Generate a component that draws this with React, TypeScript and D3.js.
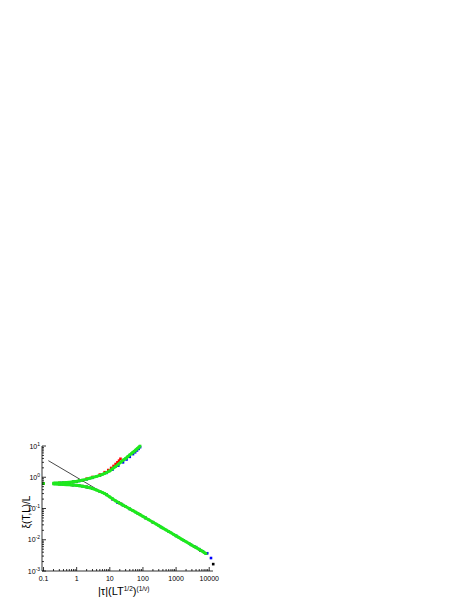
import React from 'react';
import * as d3 from 'd3';

// scaled correlation length, several system sizes (one colour each)
const greenUpperX = [0.1, 0.2, 0.25, 0.3, 0.4, 0.5, 0.6, 0.7, 0.8, 1, 1.2, 1.5, 2, 2.5, 3, 4, 5, 6, 7, 8, 10, 12, 15, 18, 22, 26, 30, 35, 40, 45, 50, 55, 60, 65, 70, 76, 82];
const greenUpperY = [0.63, 0.65, 0.65, 0.66, 0.67, 0.68, 0.69, 0.7, 0.72, 0.74, 0.77, 0.81, 0.87, 0.93, 0.98, 1.07, 1.15, 1.24, 1.33, 1.42, 1.6, 1.85, 2.2, 2.6, 3.1, 3.6, 4.0, 4.6, 5.2, 5.7, 6.3, 6.8, 7.4, 7.9, 8.5, 9.2, 10];

const greenLowerX = [0.1, 0.2, 0.25, 0.3, 0.4, 0.5, 0.6, 0.7, 0.8, 1, 1.2, 1.5, 2, 2.5, 3, 4, 5, 6, 7, 8, 10, 12, 15, 20, 25, 30, 40, 50, 60, 70, 85, 100, 120, 150, 200, 250, 300, 400, 500, 600, 700, 850, 1000, 1200, 1500, 2000, 2500, 3000, 4000, 5000, 6000, 7000, 8000];
const greenLowerY = [0.63, 0.61, 0.61, 0.6, 0.59, 0.58, 0.575, 0.565, 0.56, 0.55, 0.535, 0.515, 0.49, 0.46, 0.435, 0.39, 0.355, 0.325, 0.3, 0.275, 0.235, 0.205, 0.175, 0.147, 0.128, 0.116, 0.097, 0.085, 0.0765, 0.07, 0.062, 0.056, 0.0499, 0.0435, 0.0364, 0.0318, 0.0284, 0.0236, 0.0206, 0.0184, 0.0167, 0.0147, 0.0133, 0.0119, 0.0103, 0.0086, 0.0075, 0.0067, 0.0056, 0.0049, 0.0044, 0.0039, 0.0036];

const redUpperX = [0.1, 0.3, 0.5, 0.8, 1.2, 2, 3, 5, 7, 9, 11, 13, 15, 17, 19, 21];
const redUpperY = [0.63, 0.66, 0.68, 0.72, 0.78, 0.9, 1.02, 1.22, 1.45, 1.7, 1.98, 2.3, 2.65, 3.0, 3.4, 3.9];
const redLowerX = [0.1, 0.3, 0.5, 0.75, 1.2, 2, 3, 5, 8, 12, 20, 30, 50, 80, 120, 200];
const redLowerY = [0.63, 0.6, 0.585, 0.565, 0.535, 0.49, 0.435, 0.355, 0.275, 0.2, 0.147, 0.116, 0.085, 0.065, 0.0499, 0.0364];

const blueUpperX = [0.22, 0.35, 0.5, 0.8, 1.2, 2, 3, 5, 8, 12, 18, 25, 32, 40, 50, 58, 66, 74, 82];
const blueUpperY = [0.64, 0.66, 0.67, 0.71, 0.76, 0.86, 0.96, 1.12, 1.38, 1.75, 2.35, 3.0, 3.7, 4.5, 5.5, 6.3, 7.2, 8.1, 9.2];
const blueLowerX = [0.22, 0.35, 0.5, 0.8, 1.2, 2, 3, 5, 8, 12, 17, 25, 40, 70, 120, 200, 350, 600, 1000, 1700, 2800, 4000, 5000, 6500, 8700, 11300];
const blueLowerY = [0.63, 0.6, 0.585, 0.56, 0.535, 0.49, 0.435, 0.355, 0.275, 0.2, 0.155, 0.128, 0.097, 0.07, 0.0499, 0.0364, 0.0254, 0.0184, 0.0133, 0.0096, 0.0069, 0.0058, 0.005, 0.0042, 0.0037, 0.0026];

const blackUpperX = [0.25, 0.4, 0.6, 1, 1.5];
const blackUpperY = [0.64, 0.66, 0.68, 0.73, 0.8];
const blackLowerX = [0.25, 0.4, 0.6, 1, 1.5, 2.2, 18, 22, 3500, 5500, 8000, 13200];
const blackLowerY = [0.62, 0.6, 0.58, 0.555, 0.52, 0.475, 0.158, 0.14, 0.0061, 0.0045, 0.0036, 0.00166];

// power-law asymptote
const fitX = [0.14, 8000];
const fitY = [3.4, 0.0036];

const xMajor = [0.1, 1, 10, 100, 1000, 10000];
const xMajorLabels = ['0.1', '1', '10', '100', '1000', '10000'];
const yMajor = [10, 1, 0.1, 0.01, 0.001];
const yExponents = ['1', '0', '-1', '-2', '-3'];

const FONT = "'Liberation Sans', Arimo, Arial, sans-serif";
const GREEN = '#1ee81e';

const zip = (xs: number[], ys: number[]) => xs.map((x, i) => [x, ys[i]] as [number, number]);

const series = [
  { color: '#000000', pts: [...zip(blackUpperX, blackUpperY), ...zip(blackLowerX, blackLowerY)] },
  { color: '#ff0000', pts: [...zip(redUpperX, redUpperY), ...zip(redLowerX, redLowerY)] },
  { color: '#0000ff', pts: [...zip(blueUpperX, blueUpperY), ...zip(blueLowerX, blueLowerY)] },
];

const App = () => {
  const x = d3.scaleLog().domain([0.09, 13000]).range([42, 213]);
  const y = d3.scaleLog().domain([0.001, 10]).range([571, 446]);

  const line = d3.line<[number, number]>().x(d => x(d[0])).y(d => y(d[1]));
  const xMinor = x.ticks().filter(t => t >= 0.1 && !xMajor.includes(t));
  const yMinor = y.ticks().filter(t => !yMajor.some(m => Math.abs(m - t) < 1e-9));
  const sq = 2.6;

  const greenUp = zip(greenUpperX, greenUpperY);
  const greenLow = zip(greenLowerX, greenLowerY);

  return (
    <svg width={471} height={609} style={{ position: 'absolute', left: 0, top: 0, fontFamily: FONT }}>
      <rect width={471} height={609} fill="#fff" />

      {/* other sizes, underneath */}
      {series.map(s => (
        <g key={s.color} fill={s.color}>
          {s.pts.map((p, i) => (
            <rect key={i} x={x(p[0]) - sq / 2} y={y(p[1]) - sq / 2} width={sq} height={sq} />
          ))}
        </g>
      ))}

      <path d={line(zip(fitX, fitY)) || ''} stroke="#333" strokeWidth={0.9} fill="none" />

      {/* green on top */}
      <g>
        <path d={line(greenUp.slice(1)) || ''} stroke={GREEN} strokeWidth={3} fill="none" />
        <path d={line(greenLow.slice(1)) || ''} stroke={GREEN} strokeWidth={3} fill="none" />
        {[...greenUp, ...greenLow].map((p, i) => (
          <rect key={i} x={x(p[0]) - sq / 2} y={y(p[1]) - sq / 2} width={sq} height={sq} fill={GREEN} />
        ))}
      </g>

      {/* axes */}
      <g stroke="#000" strokeWidth={0.8}>
        <line x1={42} x2={42} y1={446} y2={571} />
        <line x1={42} x2={213} y1={571} y2={571} />
        {xMajor.map(t => <line key={t} x1={x(t)} x2={x(t)} y1={571} y2={567} />)}
        {xMinor.map(t => <line key={t} x1={x(t)} x2={x(t)} y1={571} y2={569} />)}
        {yMajor.map(t => <line key={t} x1={42} x2={46} y1={y(t)} y2={y(t)} />)}
        {yMinor.map(t => <line key={t} x1={42} x2={44} y1={y(t)} y2={y(t)} />)}
      </g>

      <g fontSize={7} fill="#000" textAnchor="middle">
        {xMajor.map((t, i) => (
          <text key={t} x={x(t)} y={581}>{xMajorLabels[i]}</text>
        ))}
      </g>
      <g fontSize={7} fill="#000" textAnchor="end">
        {yMajor.map((t, i) => (
          <text key={t} x={40} y={y(t) + 2.5}>
            10<tspan dy={-3} fontSize={5}>{yExponents[i]}</tspan>
          </text>
        ))}
      </g>

      <text transform="translate(30,512) rotate(-90)" textAnchor="middle" fontSize={10}>ξ(T,L)/L</text>
      <text x={98} y={595} fontSize={11}>
        |τ|(LT<tspan dy={-4} fontSize={6.5}>1/2</tspan><tspan dy={4}>)</tspan><tspan dy={-4} fontSize={6.5}>(1/ν)</tspan>
      </text>
    </svg>
  );
};

export default App;
